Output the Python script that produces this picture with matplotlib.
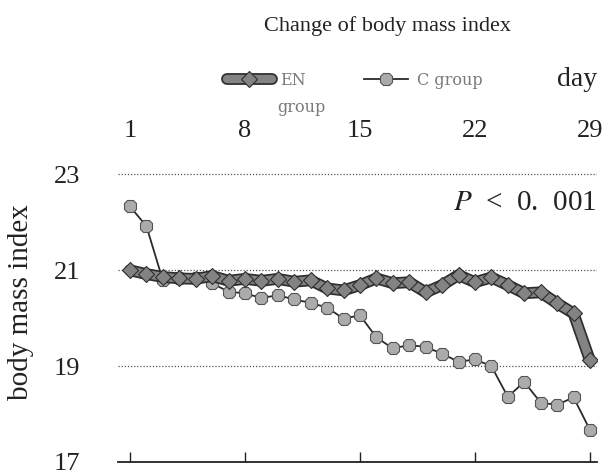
import matplotlib
matplotlib.use("Agg")
import matplotlib.pyplot as plt
from matplotlib.lines import Line2D
from matplotlib.legend_handler import HandlerTuple

days = list(range(1, 30))
en_group = [21.00, 20.92, 20.86, 20.83, 20.82, 20.88, 20.78, 20.82, 20.78, 20.82, 20.76,
            20.79, 20.62, 20.58, 20.69, 20.83, 20.73, 20.75, 20.54, 20.69, 20.90, 20.75,
            20.85, 20.69, 20.52, 20.54, 20.31, 20.10, 19.12]
c_group = [22.33, 21.92, 20.79, 20.84, 20.84, 20.73, 20.55, 20.52, 20.42, 20.48, 20.39,
           20.32, 20.22, 19.99, 20.06, 19.60, 19.37, 19.44, 19.40, 19.26, 19.09, 19.14,
           19.00, 18.36, 18.67, 18.24, 18.19, 18.35, 17.67]
x_ticks = [1, 8, 15, 22, 29]
y_ticks = [17, 19, 21, 23]

plt.rcParams['font.family'] = ['Liberation Serif', 'DejaVu Serif']
plt.rcParams['mathtext.fontset'] = 'stix'

W, H = 607, 476
fig = plt.figure(figsize=(W / 100, H / 100), dpi=100)
ax = fig.add_axes([118 / W, 14 / H, (597 - 118) / W, (462 - 160) / H])

en_color = '#838383'
en_edge = '#2e2e2e'
c_color = '#ababab'

ax.plot(days, c_group, color='#2a2a2a', lw=1.3, marker='8', ms=10,
        mfc=c_color, mec='#555555', mew=0.8, zorder=3)
# EN group: dark outline under a grey band, with diamond markers
ax.plot(days, en_group, color=en_edge, lw=8.5, solid_joinstyle='round',
        solid_capstyle='round', zorder=4)
ax.plot(days, en_group, color=en_color, lw=6, marker='D', ms=8,
        mfc=en_color, mec=en_edge, mew=0.8, solid_joinstyle='round',
        solid_capstyle='round', zorder=5)

ax.set_xlim(0.27, 29.43)
ax.set_ylim(17, 23.3)
ax.set_xticks(x_ticks)
ax.set_xticklabels([str(t) for t in x_ticks])
ax.set_yticks(y_ticks)
ax.set_yticklabels([str(t) for t in y_ticks])

ax.tick_params(axis='x', bottom=True, top=False, labelbottom=False, labeltop=True,
               direction='in', length=7, width=1, color='#222222', pad=13,
               labelsize=19, labelcolor='#222222')
ax.tick_params(axis='y', left=False, right=False, length=0, pad=27,
               labelsize=19, labelcolor='#222222')

for s in ['top', 'left', 'right']:
    ax.spines[s].set_visible(False)
ax.spines['bottom'].set_color('#222222')
ax.spines['bottom'].set_linewidth(1.3)

ax.yaxis.grid(True, linestyle=(0, (1, 1.5)), color='#555555', lw=0.9)
ax.set_axisbelow(True)

ax.set_ylabel('body mass index', fontsize=21, color='#222222')
ax.yaxis.set_label_coords(-(118 - 34) / (597 - 118), (462 - 302) / (462 - 160))

fig.text(387 / W, 1 - 26 / H, 'Change of body mass index', fontsize=16,
         ha='center', va='center', color='#222222')
fig.text(577 / W, 1 - 79 / H, 'day', fontsize=20, ha='center', va='center',
         color='#222222')
fig.text(597 / W, 1 - 203 / H, r'$P$  <  0.  001', fontsize=21, ha='right',
         va='center', color='#222222')

h_en_out = Line2D([], [], color=en_edge, lw=8.5, solid_capstyle='round')
h_en = Line2D([], [], color=en_color, lw=6, marker='D', ms=8, mfc=en_color,
              mec=en_edge, mew=0.8, solid_capstyle='round')
h_c = Line2D([], [], color='#2a2a2a', lw=1.3, marker='8', ms=10, mfc=c_color,
             mec='#555555', mew=0.8)
leg = fig.legend([(h_en_out, h_en), h_c], ['EN', 'C group'], loc='center left',
                 bbox_to_anchor=(219 / W, 1 - 80 / H), ncol=2, frameon=False,
                 fontsize=11.5, handlelength=2.8, handletextpad=0.55,
                 columnspacing=3.6, numpoints=1, borderpad=0,
                 handler_map={tuple: HandlerTuple(ndivide=1, pad=0)})
for t in leg.get_texts():
    t.set_color('#7a7a7a')
    t.set_family(['DejaVu Serif'])
fig.text(277 / W, 1 - 107 / H, 'group', fontsize=11.5, ha='left', va='center',
         color='#7a7a7a', family=['DejaVu Serif'])

fig.savefig('out.png', dpi=100)
